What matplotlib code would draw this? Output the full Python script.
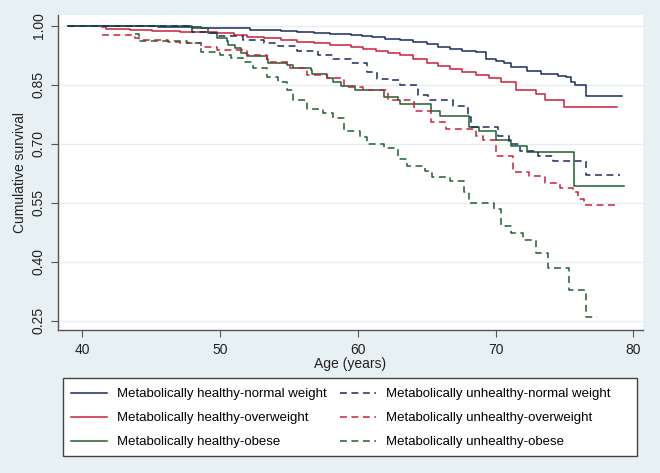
import numpy as np
import matplotlib
matplotlib.use('Agg')
import matplotlib.pyplot as plt
from matplotlib.patches import Rectangle

plt.rcParams['font.family'] = ['Liberation Sans', 'DejaVu Sans']

# Kaplan-Meier steps (age, cumulative survival)
hn_age = [39.0, 42.4, 44.0, 45.5, 47.1, 48.6, 50.0, 50.8, 52.2, 53.5, 54.4, 55.6, 56.8, 58.0, 59.5,
          60.3, 61.0, 62.0, 63.1, 64.0, 65.0, 65.8, 66.7, 67.6, 68.6, 69.3, 70.0, 70.6, 71.1, 72.3,
          73.3, 74.5, 75.1, 75.5, 75.8, 76.6, 79.2]
hn_surv = [1.0, 0.999, 0.998, 0.997, 0.996, 0.995, 0.994, 0.993, 0.990, 0.988, 0.987, 0.984, 0.982,
           0.978, 0.976, 0.973, 0.970, 0.967, 0.963, 0.958, 0.952, 0.946, 0.940, 0.936, 0.933, 0.914,
           0.911, 0.905, 0.895, 0.885, 0.878, 0.873, 0.870, 0.856, 0.848, 0.82, 0.82]

ho_age = [41.45, 41.7, 43.5, 45.1, 47.1, 48.6, 49.8, 51.0, 52.0, 53.2, 54.4, 55.6, 56.8, 58.0, 59.5,
          60.4, 61.3, 62.2, 63.1, 64.0, 65.0, 65.8, 66.7, 67.6, 68.6, 69.5, 70.4, 71.5, 72.9, 73.6,
          75.0, 78.8]
ho_surv = [0.996, 0.992, 0.990, 0.987, 0.985, 0.983, 0.981, 0.977, 0.972, 0.968, 0.963, 0.959,
           0.955, 0.950, 0.945, 0.940, 0.935, 0.930, 0.925, 0.915, 0.905, 0.897, 0.89, 0.882,
           0.874, 0.866, 0.857, 0.836, 0.827, 0.81, 0.793, 0.793]

hob_age = [39.0, 48.0, 49.1, 49.8, 50.5, 50.6, 51.1, 51.5, 52.0, 53.4, 53.5, 54.9, 55.3, 56.6,
           56.7, 57.8, 58.2, 58.75, 59.8, 61.9, 62.9, 63.1, 65.3, 66.0, 68.05, 68.8, 70.0, 71.1,
           72.3, 75.7, 79.3]
hob_surv = [1.0, 0.993, 0.982, 0.968, 0.962, 0.951, 0.942, 0.930, 0.923, 0.914, 0.904, 0.900,
            0.891, 0.887, 0.878, 0.868, 0.857, 0.846, 0.836, 0.818, 0.81, 0.80, 0.784, 0.771,
            0.742, 0.731, 0.708, 0.695, 0.678, 0.593, 0.593]

un_age = [39.0, 42.4, 48.0, 49.1, 49.8, 51.7, 53.2, 54.2, 55.6, 57.1, 58.2, 59.5, 60.7, 61.4,
          62.3, 63.1, 64.35, 65.1, 66.9, 68.0, 68.2, 70.2, 71.0, 71.8, 73.1, 74.2, 76.6, 79.0]
un_surv = [1.0, 0.998, 0.985, 0.981, 0.974, 0.963, 0.957, 0.948, 0.936, 0.925, 0.914, 0.904,
           0.882, 0.865, 0.861, 0.848, 0.823, 0.81, 0.795, 0.767, 0.742, 0.72, 0.699, 0.682,
           0.669, 0.655, 0.62, 0.62]

uo_age = [41.45, 43.85, 44.1, 46.2, 47.1, 48.6, 49.8, 52.0, 53.4, 55.1, 56.3, 57.8, 59.0, 60.4,
          62.2, 64.1, 65.3, 66.4, 68.6, 69.1, 70.0, 71.3, 72.4, 73.6, 74.7, 75.6, 76.0, 76.4, 78.9]
uo_surv = [0.977, 0.969, 0.964, 0.959, 0.957, 0.946, 0.938, 0.925, 0.908, 0.891, 0.874, 0.866,
           0.844, 0.836, 0.81, 0.784, 0.755, 0.736, 0.72, 0.708, 0.669, 0.627, 0.618, 0.601,
           0.587, 0.576, 0.559, 0.543, 0.543]

uob_age = [43.85, 44.1, 47.6, 48.6, 50.0, 50.8, 51.7, 52.4, 53.4, 54.2, 54.9, 55.3, 56.35, 57.5,
           58.2, 59.0, 60.2, 60.7, 61.9, 62.9, 63.6, 64.9, 65.4, 66.7, 67.7, 68.1, 69.9, 70.4,
           71.1, 72.0, 72.9, 73.8, 75.3, 76.6, 77.35]
uob_surv = [0.978, 0.961, 0.955, 0.934, 0.925, 0.917, 0.908, 0.891, 0.87, 0.857, 0.836, 0.81,
            0.789, 0.778, 0.764, 0.733, 0.716, 0.699, 0.69, 0.661, 0.644, 0.631, 0.614, 0.604,
            0.576, 0.55, 0.533, 0.49, 0.473, 0.456, 0.422, 0.384, 0.327, 0.26, 0.26]

labels = ['Metabolically healthy-normal weight', 'Metabolically healthy-overweight',
          'Metabolically healthy-obese', 'Metabolically unhealthy-normal weight',
          'Metabolically unhealthy-overweight', 'Metabolically unhealthy-obese']

navy = '#1c2b5e'
red = '#cc1f3a'
green = '#1f5f2f'
dash = (0, (4.5, 3))

fig = plt.figure(figsize=(6.6, 4.73), dpi=100)
fig.patch.set_facecolor('#e7f0f3')
ax = fig.add_axes([58 / 660, 1 - 330 / 473, 585 / 660, 315 / 473])

series = [
    (hn_age, hn_surv, navy, '-'),
    (ho_age, ho_surv, red, '-'),
    (hob_age, hob_surv, green, '-'),
    (un_age, un_surv, navy, dash),
    (uo_age, uo_surv, red, dash),
    (uob_age, uob_surv, green, dash),
]
handles = []
for (x, y, c, ls), lab in zip(series, labels):
    h, = ax.step(x, y, where='post', color=c, linestyle=ls, linewidth=1.1, label=lab)
    handles.append(h)

ax.set_xlim(38.25, 80.7)
ax.set_ylim(0.226, 1.027)
ax.set_xticks([40, 50, 60, 70, 80])
ax.set_yticks([1.0, 0.85, 0.70, 0.55, 0.40, 0.25])
ax.set_yticklabels(['1.00', '0.85', '0.70', '0.55', '0.40', '0.25'], rotation=90, va='center')
ax.grid(axis='y', color='#e4edf0', linewidth=1.0)
ax.set_axisbelow(True)
for s in ['top', 'right']:
    ax.spines[s].set_visible(False)
for s in ['left', 'bottom']:
    ax.spines[s].set_color('#555555')
    ax.spines[s].set_linewidth(1.0)
ax.tick_params(length=5, color='#555555', labelsize=10, labelcolor='#222222', pad=4)
ax.set_xlabel('Age (years)', fontsize=10, color='#222222', labelpad=0)
ax.set_ylabel('Cumulative survival', fontsize=10, color='#222222', labelpad=3)

# legend box
box = Rectangle((63 / 660, 1 - 456 / 473), 574 / 660, 78 / 473, transform=fig.transFigure,
                facecolor='white', edgecolor='#444444', linewidth=1.0, zorder=1)
fig.add_artist(box)
leg = fig.legend(handles=handles, ncol=2, loc='upper left',
                 bbox_to_anchor=(63 / 660, 1 - 380 / 473), borderaxespad=0,
                 fontsize=9.5, frameon=False,
                 handlelength=2.75, handletextpad=0.75, labelspacing=0.9,
                 borderpad=0.6, columnspacing=1.0)
leg.set_zorder(2)

fig.savefig('out.png', dpi=100, facecolor=fig.get_facecolor())
